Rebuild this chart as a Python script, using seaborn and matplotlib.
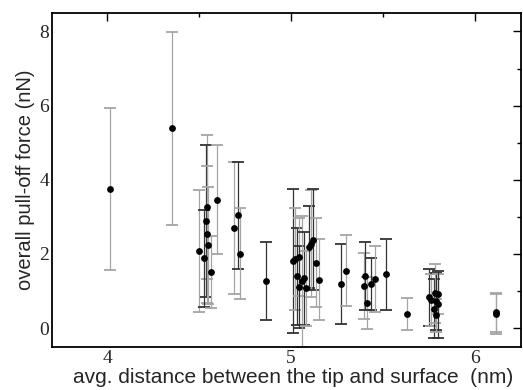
import numpy as np
import pandas as pd
import matplotlib
matplotlib.use("Agg")
import matplotlib.pyplot as plt
import seaborn as sns
from matplotlib.ticker import MultipleLocator

# ---- data ----
distance = [4.016, 4.35,
            4.498, 4.543, 4.536, 4.542, 4.551, 4.525, 4.567, 4.60,
            4.69, 4.714, 4.72, 4.864,
            5.013, 5.02, 5.03, 5.045, 5.045, 5.06, 5.07, 5.08, 5.10, 5.11, 5.12, 5.136, 5.15,
            5.272, 5.297, 5.399, 5.402, 5.413, 5.435, 5.458, 5.515, 5.63,
            5.752, 5.759, 5.777, 5.783, 5.79, 5.80, 5.80, 5.788,
            6.114, 6.114]
force = [3.75, 5.39,
         2.08, 3.27, 2.88, 2.53, 2.23, 1.88, 1.52, 3.46,
         2.70, 3.04, 2.01, 1.27,
         1.81, 1.86, 1.40, 1.92, 1.11, 1.26, 1.34, 1.07, 2.19, 2.28, 2.39, 1.77, 1.31,
         1.19, 1.55, 1.14, 1.40, 0.69, 1.19, 1.32, 1.45, 0.39,
         0.83, 0.75, 0.53, 0.94, 0.72, 0.92, 0.64, 0.35,
         0.43, 0.37]
force_err = [2.18, 2.60,
             1.65, 1.95, 2.05, 1.85, 1.58, 1.30, 0.97, 1.47,
             1.78, 1.44, 1.22, 1.06,
             1.93, 1.37, 1.31, 1.04, 1.10, 1.76, 1.26, 1.00, 1.10, 1.44, 1.37, 1.19, 1.10,
             1.07, 0.96, 0.90, 0.91, 0.70, 0.69, 0.89, 0.96, 0.43,
             0.76, 0.70, 0.80, 0.80, 0.78, 0.55, 0.90, 0.45,
             0.52, 0.54]

df = pd.DataFrame({"d": distance, "f": force, "e": force_err})

# style: shade of each error bar (0 = dark, 1 = grey)
bar_shade = [1, 1,
             1, 1, 0, 1, 1, 0, 1, 1,
             1, 0, 1, 0,
             0, 1, 0, 1, 0, 1, 0, 1, 0, 1, 0, 1, 1,
             0, 1, 1, 0, 1, 0, 1, 0, 1,
             0, 1, 0, 1, 0, 1, 0, 1,
             1, 1]
shade_colors = {0: "#333333", 1: "#a5a5a5"}

sns.set_theme(style="white")
plt.rcParams["font.family"] = ["Liberation Serif", "DejaVu Serif"]

fig = plt.figure(figsize=(5.23, 3.90), dpi=100)
ax = fig.add_axes([0.0994, 0.110, 0.8966, 0.857])

for i, row in df.iterrows():
    ax.errorbar(row["d"], row["f"], yerr=row["e"], fmt="none",
                ecolor=shade_colors[bar_shade[i]], elinewidth=0.9,
                capsize=4.5, capthick=1.3, zorder=2)

sns.scatterplot(data=df, x="d", y="f", ax=ax, color="black", s=24,
                edgecolor="black", linewidth=0, zorder=3, legend=False)

ax.set_xlim(3.70, 6.25)
ax.set_ylim(-0.51, 8.5)
ax.xaxis.set_major_locator(MultipleLocator(1))
ax.xaxis.set_minor_locator(MultipleLocator(0.5))
ax.yaxis.set_major_locator(MultipleLocator(2))
ax.yaxis.set_minor_locator(MultipleLocator(1))
ax.tick_params(which="both", direction="in", top=True, right=True,
               color="black", width=1.0)
ax.tick_params(which="major", length=6, labelsize=14, pad=2)
ax.tick_params(which="minor", length=3)
for lab in ax.get_xticklabels() + ax.get_yticklabels():
    lab.set_family(["Liberation Serif", "DejaVu Serif"])

for s in ax.spines.values():
    s.set_color("black")
    s.set_linewidth(1.3)

ax.set_xlabel("avg. distance between the tip and surface  (nm)",
              family=["Liberation Sans", "DejaVu Sans"], fontsize=15)
ax.xaxis.set_label_coords(0.515, -0.062, transform=ax.transAxes)
ax.xaxis.label.set_va("top")
ax.set_ylabel("overall pull-off force (nN)",
              family=["Liberation Sans", "DejaVu Sans"], fontsize=14.5, labelpad=3)
ax.grid(False)

fig.savefig("out.png", dpi=100)
